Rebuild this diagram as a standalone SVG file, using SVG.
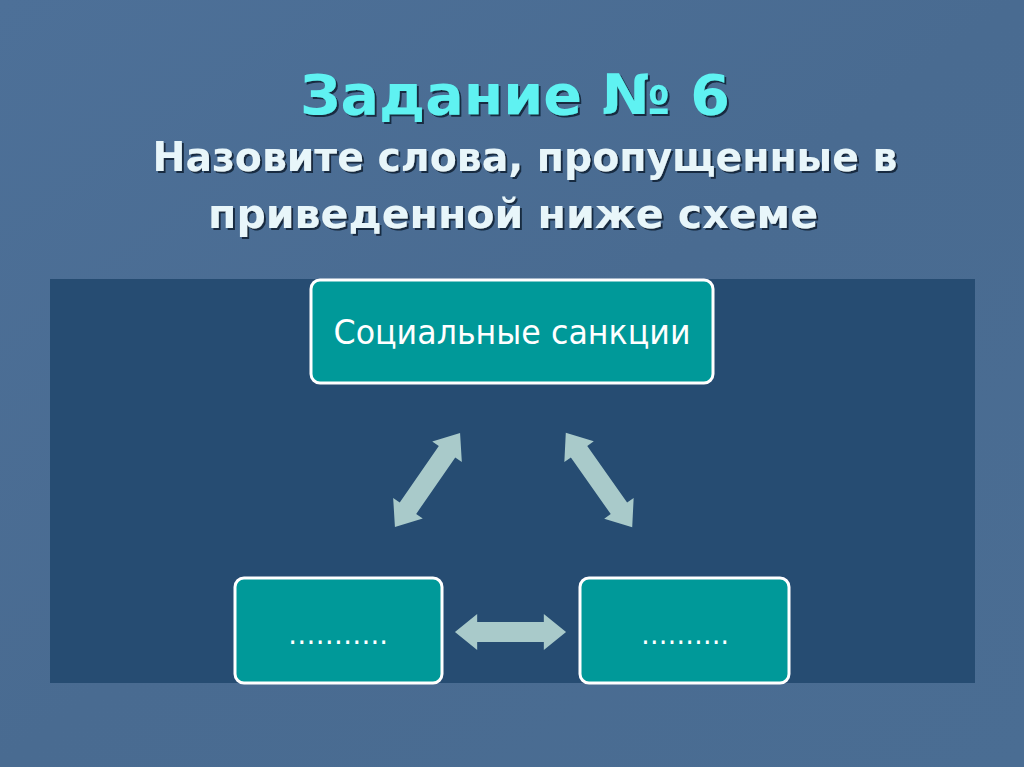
<svg xmlns="http://www.w3.org/2000/svg" width="1024" height="767" viewBox="0 0 1024 767">
  <defs>
    <linearGradient id="bg" x1="0" y1="0" x2="1" y2="1">
      <stop offset="0" stop-color="#4d7098"/>
      <stop offset="0.5" stop-color="#496b91"/>
      <stop offset="1" stop-color="#4a6d93"/>
    </linearGradient>
    <filter id="sh" x="-5%" y="-20%" width="110%" height="140%">
      <feDropShadow dx="2" dy="2" stdDeviation="0.6" flood-color="#0f1e30" flood-opacity="0.85"/>
    </filter>
    <polygon id="dbl" points="-55,0 -33,-18 -33,-10 33,-10 33,-18 55,0 33,18 33,10 -33,10 -33,18"/>
  </defs>
  <style>
    .node rect { fill: #009999; stroke: #ffffff; stroke-width: 3; }
    .node text { font-family: "DejaVu Sans", "Verdana", sans-serif; fill: #ffffff; text-anchor: middle; }
    .arrow { fill: #a9caca; }
    .title { font-family: "DejaVu Sans", "Verdana", sans-serif; font-weight: bold; text-anchor: middle; filter: url(#sh); }
  </style>
  <rect x="0" y="0" width="1024" height="767" fill="url(#bg)"/>
  <rect x="50" y="279" width="925" height="404" fill="#264c72"/>

  <g id="title">
    <text class="title" x="515" y="114" font-size="56" fill="#5ef2f2" textLength="430" lengthAdjust="spacingAndGlyphs">Задание № 6</text>
    <text class="title" x="525" y="171" font-size="41" fill="#e8f6fa" textLength="745" lengthAdjust="spacingAndGlyphs">Назовите слова, пропущенные в</text>
    <text class="title" x="513" y="228" font-size="41" fill="#e8f6fa" textLength="610" lengthAdjust="spacingAndGlyphs">приведенной ниже схеме</text>
  </g>

  <g id="connectors">
    <use href="#dbl" class="arrow" transform="translate(427.5,480) rotate(-55.3) scale(1.04,1)"/>
    <use href="#dbl" class="arrow" transform="translate(599,480) rotate(54.9) scale(1.05,1)"/>
    <use href="#dbl" class="arrow" transform="translate(510.5,632) scale(1.01,1)"/>
  </g>

  <g id="node-sanctions" class="node">
    <rect x="311" y="280" width="402" height="103" rx="9"/>
    <text x="512" y="344" font-size="34" textLength="357" lengthAdjust="spacingAndGlyphs">Социальные санкции</text>
  </g>
  <g id="node-left" class="node">
    <rect x="235" y="578" width="207" height="105" rx="9"/>
    <text x="338" y="644" font-size="28" textLength="100" lengthAdjust="spacingAndGlyphs">………..</text>
  </g>
  <g id="node-right" class="node">
    <rect x="580" y="578" width="209" height="105" rx="9"/>
    <text x="685" y="644" font-size="28" textLength="88" lengthAdjust="spacingAndGlyphs">……….</text>
  </g>
</svg>
